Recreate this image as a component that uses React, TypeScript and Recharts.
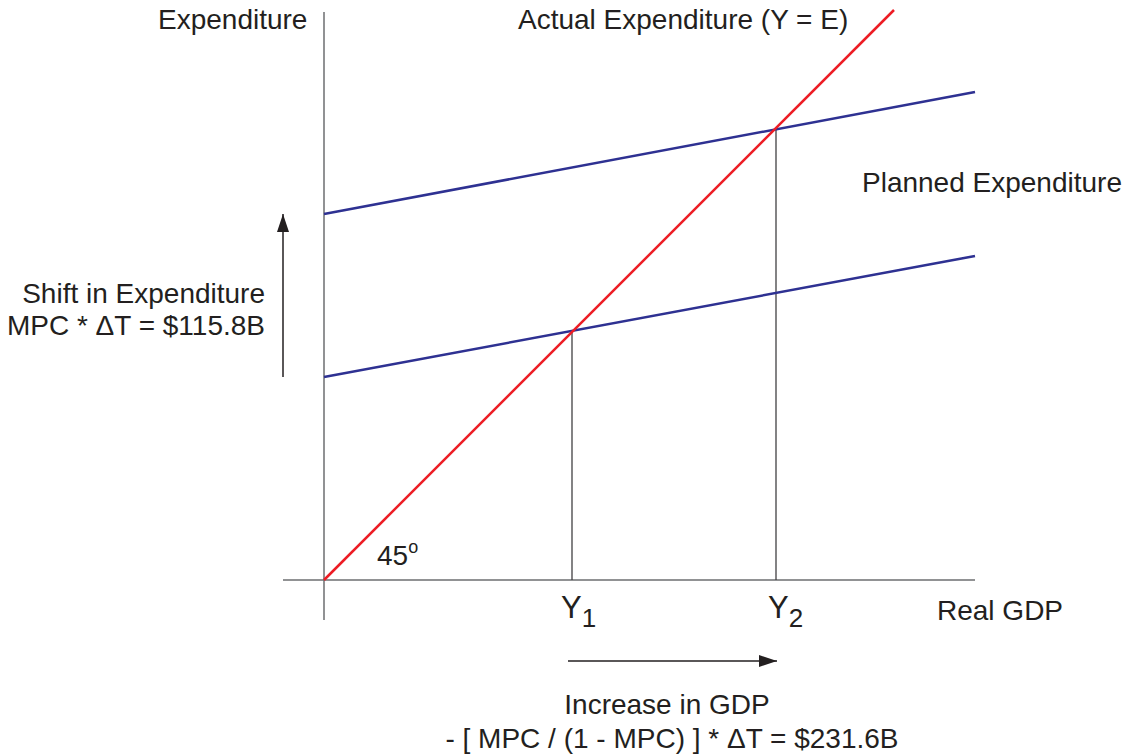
import React from "react";
import { ComposedChart, Line, XAxis, YAxis } from "recharts";

// Values (schematic units, equal scale on both axes)
const axisX = [
  { x: -41, y: 0 },
  { x: 651, y: 0 },
];
const axisY = [
  { x: 0, y: -40 },
  { x: 0, y: 568 },
];
const actualExpenditure = [
  { x: 0, y: 0 },
  { x: 570, y: 570 },
];
const plannedLow = [
  { x: 0, y: 203 },
  { x: 651, y: 324 },
];
const plannedHigh = [
  { x: 0, y: 366 },
  { x: 651, y: 488 },
];
const y1Guide = [
  { x: 248, y: 0 },
  { x: 248, y: 248 },
];
const y2Guide = [
  { x: 452, y: 0 },
  { x: 452, y: 452 },
];
const shiftArrow = [
  { x: -41, y: 203 },
  { x: -41, y: 366 },
];
const gdpArrow = [
  { x: 244, y: -81 },
  { x: 453, y: -81 },
];

const W = 1127;
const H = 754;
const FONT = "'Liberation Sans', Arial, Helvetica, sans-serif";

const makeArrowDot = (dir: "up" | "right", last: number) => (props: any) => {
  const { cx, cy, index } = props;
  if (index !== last || cx == null || cy == null) return <g key={`d${index}`} />;
  const pts =
    dir === "up"
      ? `${cx},${cy} ${cx - 6},${cy + 18} ${cx + 6},${cy + 18}`
      : `${cx},${cy} ${cx - 18},${cy - 6} ${cx - 18},${cy + 6}`;
  return <polygon key={`d${index}`} points={pts} fill="#231f20" stroke="none" />;
};

const seg = (data: any[], color: string, width: number, name: string, dot: any = false) => (
  <Line
    key={name}
    data={data}
    dataKey="y"
    type="linear"
    stroke={color}
    strokeWidth={width}
    dot={dot}
    activeDot={false}
    isAnimationActive={false}
    legendType="none"
  />
);

export default function App() {
  const txt = { fontFamily: FONT, fontSize: 28, fill: "#231f20" } as const;
  return (
    <div style={{ position: "absolute", left: 0, top: 0, width: W, height: H, background: "#fff" }}>
      <ComposedChart width={W} height={H} margin={{ top: 0, right: 0, bottom: 0, left: 0 }}>
        <XAxis type="number" dataKey="x" domain={[-324, 803]} hide allowDataOverflow />
        <YAxis type="number" dataKey="y" domain={[-174, 580]} hide allowDataOverflow />
        {seg(axisX, "#6d6e71", 1.5, "ax")}
        {seg(axisY, "#6d6e71", 1.5, "ay")}
        {seg(y1Guide, "#414042", 1.3, "g1")}
        {seg(y2Guide, "#414042", 1.3, "g2")}
        {seg(plannedLow, "#2e3192", 2.5, "pl")}
        {seg(plannedHigh, "#2e3192", 2.5, "ph")}
        {seg(actualExpenditure, "#ed1c24", 2.5, "ae")}
        {seg(shiftArrow, "#231f20", 1.5, "sa", makeArrowDot("up", 1))}
        {seg(gdpArrow, "#231f20", 1.5, "ga", makeArrowDot("right", 1))}
      </ComposedChart>
      <svg
        width={W}
        height={H}
        style={{ position: "absolute", left: 0, top: 0, pointerEvents: "none" }}
      >
        <text x={158} y={29} {...txt}>Expenditure</text>
        <text x={518} y={29} {...txt}>Actual Expenditure (Y = E)</text>
        <text x={862} y={192} {...txt}>Planned Expenditure</text>
        <text x={265} y={303} textAnchor="end" {...txt}>Shift in Expenditure</text>
        <text x={265} y={335} textAnchor="end" {...txt}>MPC * ΔT = $115.8B</text>
        <text x={377} y={565} {...txt}>
          45<tspan fontSize={18} dy={-12}>o</tspan>
        </text>
        <text x={561} y={618} {...txt} fontSize={31}>
          Y<tspan fontSize={26} dy={9}>1</tspan>
        </text>
        <text x={768} y={618} {...txt} fontSize={31}>
          Y<tspan fontSize={26} dy={9}>2</tspan>
        </text>
        <text x={937} y={620} {...txt}>Real GDP</text>
        <text x={667} y={714} textAnchor="middle" {...txt}>Increase in GDP</text>
        <text x={672} y={748} textAnchor="middle" {...txt}>- [ MPC / (1 - MPC) ] * ΔT = $231.6B</text>
      </svg>
    </div>
  );
}
